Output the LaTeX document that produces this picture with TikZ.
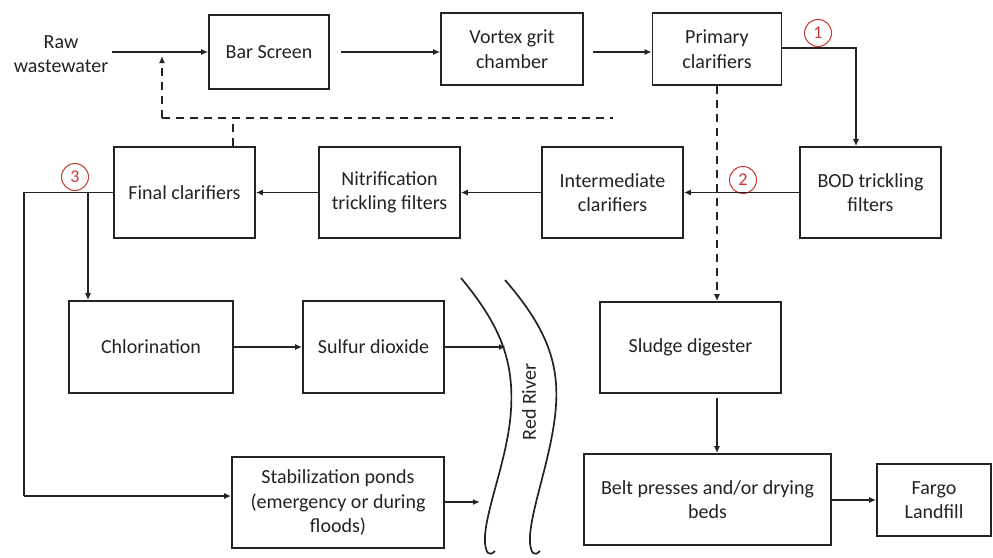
\documentclass[tikz,border=0pt]{standalone}
\usepackage{fontspec}
\setmainfont{Carlito}
\usetikzlibrary{arrows.meta}
\definecolor{myred}{RGB}{200,55,50}
\definecolor{txt}{RGB}{35,35,35}
\begin{document}
\begin{tikzpicture}[x=1pt,y=-1pt,
  box/.style={draw=txt,line width=1.7pt,rectangle,align=center,text=txt,inner sep=2pt,
    font=\fontsize{20}{24.5}\selectfont},
  lbl/.style={align=center,text=txt,inner sep=4pt,font=\fontsize{20}{24.5}\selectfont},
  conn/.style={line width=1.8pt,draw=txt},
  arr/.style={conn,-{Latex[length=7pt,width=6pt]}},
  dashline/.style={conn,dash pattern=on 8pt off 6pt},
  num/.style={circle,draw=myred,line width=1pt,text=myred,minimum size=27pt,inner sep=0pt,
    font=\fontsize{18}{18}\selectfont},
  river/.style={line width=1.7pt,draw=txt}]
\useasboundingbox (0,0) rectangle (993,557);
% nodes
\node[lbl] (raw) at (61,54) {Raw\\wastewater};
\node[box,minimum width=120pt,minimum height=74pt] (bar) at (269,52) {Bar Screen};
\node[box,minimum width=142pt,minimum height=72pt] (vortex) at (512,49) {Vortex grit\\chamber};
\node[box,minimum width=129pt,minimum height=72pt] (primary) at (717,49) {Primary\\clarifiers};
\node[box,minimum width=141pt,minimum height=91pt] (bod) at (870.5,192.5) {BOD trickling\\filters};
\node[box,minimum width=141pt,minimum height=91pt] (inter) at (612.5,192.5) {Intermediate\\clarifiers};
\node[box,minimum width=141pt,minimum height=91pt] (nitr) at (389.5,192.5) {Nitrification\\trickling filters};
\node[box,minimum width=141pt,minimum height=91pt] (final) at (184.5,192.5) {Final clarifiers};
\node[box,minimum width=164pt,minimum height=92pt] (chlor) at (151,347) {Chlorination};
\node[box,minimum width=141pt,minimum height=92pt] (sulfur) at (373.5,347) {Sulfur dioxide};
\node[box,minimum width=212pt,minimum height=91pt] (stab) at (338,502.5) {Stabilization ponds\\(emergency or during\\floods)};
\node[box,minimum width=181pt,minimum height=91pt] (sludge) at (690.5,347.5) {Sludge digester};
\node[box,minimum width=247pt,minimum height=91pt] (belt) at (707.5,499.5) {Belt presses and/or drying\\beds};
\node[box,minimum width=114pt,minimum height=72pt] (fargo) at (934,500) {Fargo\\Landfill};
\node[lbl,rotate=90] (rr) at (529,402) {Red River};
% circled numbers
\node[num] (n1) at (818,33) {1};
\node[num] (n2) at (743,180) {2};
\node[num] (n3) at (75,177) {3};
% coordinates
\coordinate (rivA) at (506,347);
\coordinate (rivB) at (480,502);
\coordinate (jl) at (24,192.5);
\coordinate (jb) at (24,496);
\coordinate (jc) at (88,192.5);
\coordinate (dA) at (233,118);
\coordinate (dB) at (162,118);
\coordinate (dE) at (613,118);
\coordinate (dT) at (162,56);
% river banks
\draw[river] (461,278) .. controls (500,325) and (514,360) .. (511,410)
  .. controls (508,460) and (483,515) .. (485,543)
  .. controls (486,553) and (489,557) .. (495,551);
\draw[river] (505,280) .. controls (544,325) and (559,360) .. (556,405)
  .. controls (553,455) and (528,515) .. (530,543)
  .. controls (531,553) and (534,557) .. (540,551);
% connectors
\draw[arr] (raw.east |- bar.west) -- (bar.west);
\draw[arr] ([xshift=11pt]bar.east) -- (vortex.west |- bar.east);
\draw[arr] ([xshift=9pt]vortex.east |- bar.east) -- (primary.west |- bar.east);
\draw[arr] ([yshift=1pt]primary.east) -| ([xshift=-14.5pt]bod.north);
\draw[arr] (bod.west) -- (inter.east);
\draw[arr] (inter.west) -- (nitr.east);
\draw[arr] (nitr.west) -- (final.east);
\draw[conn] (final.west) -- (jl) -- (jb);
\draw[arr] (jb) -- (stab.west |- jb);
\draw[arr] (jc) -- (chlor.north -| jc);
\draw[arr] (chlor.east) -- (sulfur.west);
\draw[arr] (sulfur.east) -- (rivA);
\draw[arr] (stab.east |- rivB) -- (rivB);
\draw[dashline] (dB) -- (dE);
\draw[dashline] (final.north -| dA) -- (dA);
\draw[dashline,-{Latex[length=7pt,width=6pt]}] (dB) -- (dT);
\draw[dashline,-{Latex[length=7pt,width=6pt]}] (primary.south) -- (sludge.north -| primary.south);
\draw[arr] ([yshift=-4pt]sludge.south -| primary.south) -- (belt.north -| primary.south);
\draw[arr] (belt.east |- fargo.west) -- (fargo.west);
\end{tikzpicture}
\end{document}
